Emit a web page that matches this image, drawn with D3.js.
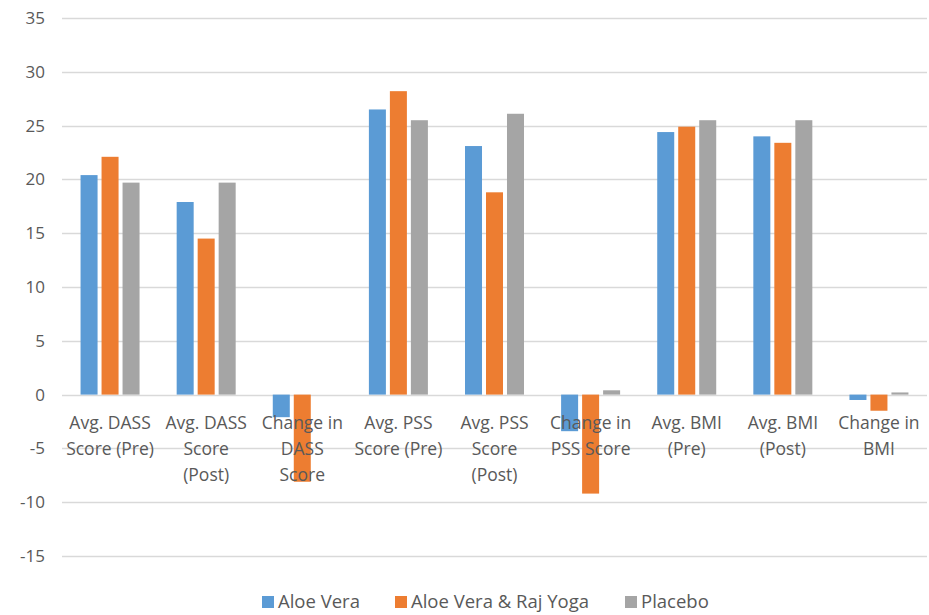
<!DOCTYPE html>
<html>
<head>
<meta charset="utf-8">
<script src="https://cdn.jsdelivr.net/npm/d3@7"></script>
<style>
body { margin: 0; background: #fff; }
text { font-family: "Open Sans", "Noto Sans", sans-serif; fill: #595959; }
</style>
</head>
<body>
<svg width="929" height="615"></svg>
<script>
// chart data
var categories = ["DASS Pre", "DASS Post", "DASS Change", "PSS Pre", "PSS Post", "PSS Change", "BMI Pre", "BMI Post", "BMI Change"];
var catLabels = [
    ["Avg. DASS", "Score (Pre)"],
    ["Avg. DASS", "Score", "(Post)"],
    ["Change in", "DASS", "Score"],
    ["Avg. PSS", "Score (Pre)"],
    ["Avg. PSS", "Score", "(Post)"],
    ["Change in", "PSS Score"],
    ["Avg. BMI", "(Pre)"],
    ["Avg. BMI", "(Post)"],
    ["Change in", "BMI"]
];
var seriesNames = ["Aloe Vera", "Aloe Vera & Raj Yoga", "Placebo"];
var aloeVera = [20.4, 17.9, -2.1, 26.5, 23.1, -3.4, 24.4, 24.0, -0.5];
var aloeYoga = [22.1, 14.5, -8.1, 28.2, 18.8, -9.2, 24.9, 23.4, -1.5];
var placebo = [19.7, 19.7, 0, 25.5, 26.1, 0.4, 25.5, 25.5, 0.2];
var yTicks = [35, 30, 25, 20, 15, 10, 5, 0, -5, -10, -15];

var colors = ["#5B9BD5", "#ED7D31", "#A5A5A5"];
var seriesValues = [aloeVera, aloeYoga, placebo];

var svg = d3.select("svg");

var x = d3.scaleBand()
    .domain(categories)
    .range([62, 927]);

var x1 = d3.scaleBand()
    .domain(seriesNames)
    .range([-29.5, 29.5])
    .paddingInner(0.19);

var y = d3.scaleLinear()
    .domain([-15, 35])
    .range([556, 18]);

// gridlines
svg.append("g")
    .selectAll("line")
    .data(yTicks)
    .join("line")
    .attr("x1", 62)
    .attr("x2", 927)
    .attr("y1", d => Math.round(y(d)) + 0.5)
    .attr("y2", d => Math.round(y(d)) + 0.5)
    .attr("stroke", "#D9D9D9")
    .attr("stroke-width", 1.5);

// y labels
svg.append("g")
    .selectAll("text")
    .data(yTicks)
    .join("text")
    .attr("x", 45)
    .attr("y", d => y(d))
    .attr("dy", "0.35em")
    .attr("text-anchor", "end")
    .style("font-size", "17px")
    .text(d => d);

// bars
var rows = [];
categories.forEach((c, i) => {
    seriesNames.forEach((s, j) => {
        rows.push({cat: c, series: s, value: seriesValues[j][i], color: colors[j]});
    });
});

svg.append("g")
    .selectAll("rect")
    .data(rows)
    .join("rect")
    .attr("x", d => x(d.cat) + x.bandwidth() / 2 + x1(d.series))
    .attr("width", x1.bandwidth())
    .attr("y", d => y(Math.max(0, d.value)))
    .attr("height", d => Math.abs(y(d.value) - y(0)))
    .attr("fill", d => d.color);

// category labels (drawn over the bars, as in the original)
var lab = svg.append("g")
    .selectAll("text")
    .data(categories)
    .join("text")
    .attr("text-anchor", "middle")
    .style("font-size", "17.5px")
    .attr("transform", d => "translate(" + (x(d) + x.bandwidth() / 2) + ",429)");

lab.selectAll("tspan")
    .data((d, i) => catLabels[i])
    .join("tspan")
    .attr("x", 0)
    .attr("y", (d, i) => i * 26)
    .text(d => d);

// legend
var legendX = [262, 395, 625];
var leg = svg.append("g")
    .selectAll("g")
    .data(seriesNames)
    .join("g")
    .attr("transform", (d, i) => "translate(" + legendX[i] + ",596)");

leg.append("rect")
    .attr("width", 12)
    .attr("height", 12)
    .attr("fill", (d, i) => colors[i]);

leg.append("text")
    .attr("x", 16)
    .attr("y", 6)
    .attr("dy", "0.35em")
    .style("font-size", "18.5px")
    .text(d => d);
</script>
</body>
</html>
